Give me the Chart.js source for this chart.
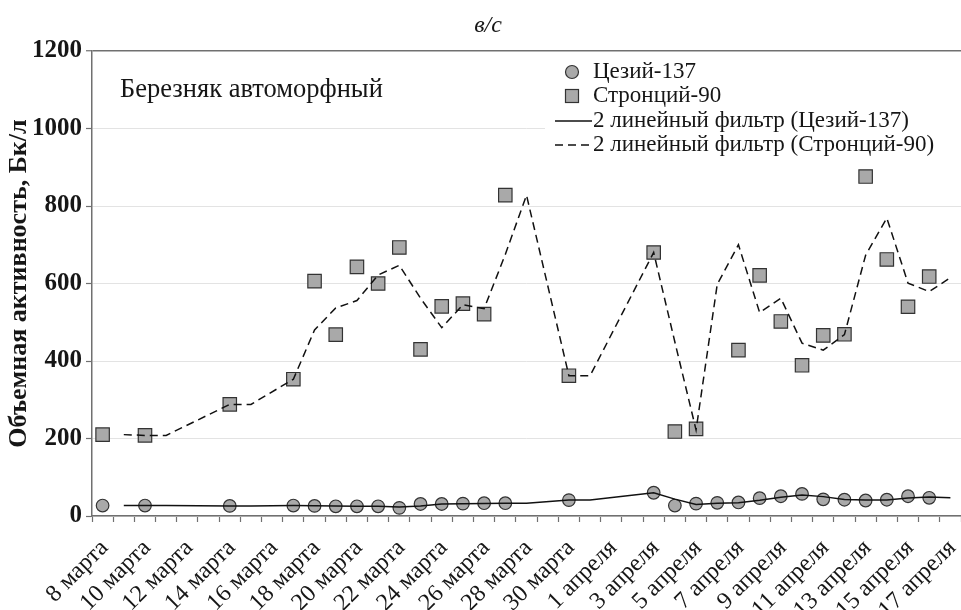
<!DOCTYPE html>
<html lang="ru">
<head>
<meta charset="utf-8">
<title>Березняк автоморфный</title>
<script src="https://cdn.jsdelivr.net/npm/chart.js@4.4.1/dist/chart.umd.min.js"></script>
<style>
    html, body { margin: 0; padding: 0; background: #ffffff; }
    canvas { display: block; }
</style>
</head>
<body>
<canvas id="activityChart" width="961" height="610"></canvas>
<script>
// Days of observation (one category per day, every other one is labelled)
const days = [
    '8 марта', '9 марта', '10 марта', '11 марта', '12 марта', '13 марта', '14 марта',
    '15 марта', '16 марта', '17 марта', '18 марта', '19 марта', '20 марта', '21 марта',
    '22 марта', '23 марта', '24 марта', '25 марта', '26 марта', '27 марта', '28 марта',
    '29 марта', '30 марта', '31 марта', '1 апреля', '2 апреля', '3 апреля', '4 апреля',
    '5 апреля', '6 апреля', '7 апреля', '8 апреля', '9 апреля', '10 апреля', '11 апреля',
    '12 апреля', '13 апреля', '14 апреля', '15 апреля', '16 апреля', '17 апреля'
];

// Cs-137, Bq/l (null = no sample that day)
const cesium = [
    27, null, 27, null, null, null, 26, null, null, 27,
    26, 25, 25, 25, 21, 31, 31, 32, 33, 33,
    null, null, 41, null, null, null, 60, 27, 32, 34,
    35, 46, 51, 57, 43, 42, 40, 42, 51, 47,
    null
];

// Sr-90, Bq/l
const strontium = [
    210, null, 208, null, null, null, 288, null, null, 353,
    606, 468, 643, 600, 693, 430, 541, 548, 521, 828,
    null, null, 362, null, null, null, 680, 218, 225, 972,
    428, 621, 502, 389, 466, 469, 876, 662, 540, 618,
    null
];

// 2-point moving average trend lines, as drawn on the picture
const cesiumFilter = [
    null, 27, 27, 27, null, null, 26, 26, null, 27,
    26.5, 25.5, 25, 25, 23, 26, 31, 31.5, 32.5, 33,
    33, null, 41, 41, null, null, 60, 43.5, 29.5, 33,
    34.5, 40.5, 48.5, 54, 50, 42.5, 41, 41, 46.5, 49,
    47
];

const strontiumFilter = [
    null, 210, 208, 208, null, null, 288, 288, null, 353,
    480, 537, 556, 622, 647, 562, 486, 545, 535, 675,
    828, null, 362, 362, null, null, 680, 449, 222, 598,
    700, 525, 562, 446, 428, 468, 673, 769, 601, 579,
    615
];

const yTicks = [0, 200, 400, 600, 800, 1000, 1200];

const legendItems = [
    { label: 'Цезий-137', kind: 'circle' },
    { label: 'Стронций-90', kind: 'rect' },
    { label: '2 линейный фильтр (Цезий-137)', kind: 'solid' },
    { label: '2 линейный фильтр (Стронций-90)', kind: 'dashed' }
];

const SERIF = "'Liberation Serif', 'Times New Roman', serif";
const MARKER_FILL = '#a9a9a9';
const MARKER_EDGE = '#333333';
const AXIS_COLOR = '#707070';
const TEXT_COLOR = '#161616';

/**
 * Title, panel caption and the legend box (drawn over the plot, as in the source)
 */
const annotations = {
    id: 'annotations',
    afterDatasetsDraw(chart) {
        const c = chart.ctx;
        c.save();

        // figure letter
        c.fillStyle = TEXT_COLOR;
        c.font = 'italic 24px ' + SERIF;
        c.textAlign = 'center';
        c.textBaseline = 'alphabetic';
        c.fillText('в/с', 488, 32);

        // site caption
        c.font = '26.5px ' + SERIF;
        c.textAlign = 'left';
        c.textBaseline = 'middle';
        c.fillText('Березняк автоморфный', 120, 90);

        // legend with white background
        c.fillStyle = '#ffffff';
        c.fillRect(545, 54, 416, 104);

        const rowY = [72, 96, 121, 145];
        c.font = '23px ' + SERIF;
        legendItems.forEach((item, i) => {
            const y = rowY[i];
            c.fillStyle = MARKER_FILL;
            c.strokeStyle = MARKER_EDGE;
            c.lineWidth = 1.2;
            c.setLineDash([]);
            if (item.kind === 'circle') {
                c.beginPath();
                c.arc(572, y, 6.5, 0, Math.PI * 2);
                c.fill();
                c.stroke();
            } else if (item.kind === 'rect') {
                c.fillRect(565.5, y - 6.5, 13, 13);
                c.strokeRect(565.5, y - 6.5, 13, 13);
            } else {
                c.strokeStyle = '#111111';
                c.lineWidth = 1.5;
                if (item.kind === 'dashed') c.setLineDash([8, 5]);
                c.beginPath();
                c.moveTo(555, y);
                c.lineTo(592, y);
                c.stroke();
            }
            c.fillStyle = TEXT_COLOR;
            c.fillText(item.label, 593, y);
        });

        c.restore();
    }
};

const ctx = document.getElementById('activityChart');

new Chart(ctx, {
    type: 'line',
    data: {
        labels: days,
        datasets: [
            {
                label: '2 линейный фильтр (Цезий-137)',
                data: cesiumFilter,
                borderColor: '#111111',
                borderWidth: 1.5,
                pointRadius: 0,
                spanGaps: true,
                tension: 0,
                order: 0
            },
            {
                label: '2 линейный фильтр (Стронций-90)',
                data: strontiumFilter,
                borderColor: '#111111',
                borderWidth: 1.5,
                borderDash: [8, 5],
                pointRadius: 0,
                spanGaps: true,
                tension: 0,
                order: 0
            },
            {
                label: 'Цезий-137',
                data: cesium,
                showLine: false,
                pointStyle: 'circle',
                pointRadius: 6.3,
                pointBackgroundColor: MARKER_FILL,
                pointBorderColor: MARKER_EDGE,
                pointBorderWidth: 1.2,
                order: 1
            },
            {
                label: 'Стронций-90',
                data: strontium,
                showLine: false,
                pointStyle: 'rect',
                pointRadius: 9.5,
                pointBackgroundColor: MARKER_FILL,
                pointBorderColor: MARKER_EDGE,
                pointBorderWidth: 1.2,
                order: 1
            }
        ]
    },
    options: {
        responsive: false,
        animation: false,
        layout: {
            autoPadding: false,
            padding: { top: 51, right: 0, bottom: 0, left: 0 }
        },
        plugins: {
            legend: { display: false },
            tooltip: { enabled: false }
        },
        scales: {
            x: {
                offset: true,
                grid: {
                    offset: true,
                    drawOnChartArea: false,
                    tickLength: 6,
                    tickColor: AXIS_COLOR,
                    tickWidth: 1.2
                },
                border: { color: AXIS_COLOR, width: 1.5 },
                ticks: {
                    autoSkip: false,
                    minRotation: 45,
                    maxRotation: 45,
                    padding: 12,
                    labelOffset: 2,
                    color: TEXT_COLOR,
                    font: { family: SERIF, size: 24 },
                    callback: function (value, index) {
                        return index % 2 === 0 ? this.getLabelForValue(value) : '';
                    }
                },
                afterFit(scale) {
                    scale.height = 94;
                    scale.paddingLeft = 0;
                    scale.paddingRight = 0;
                }
            },
            y: {
                min: 0,
                max: 1200,
                afterBuildTicks(scale) {
                    scale.ticks = yTicks.map(v => ({ value: v }));
                },
                grid: {
                    color: c => (c.tick && c.tick.value === 1200 ? AXIS_COLOR : '#e3e3e3'),
                    lineWidth: c => (c.tick && c.tick.value === 1200 ? 1.5 : 1),
                    tickLength: 6,
                    tickColor: AXIS_COLOR,
                    tickWidth: 1.2
                },
                border: { color: AXIS_COLOR, width: 1.5 },
                ticks: {
                    padding: 4,
                    color: TEXT_COLOR,
                    font: { family: SERIF, size: 25, weight: 'bold' },
                    callback: value => String(value)
                },
                title: {
                    display: true,
                    text: 'Объемная активность, Бк/л',
                    color: TEXT_COLOR,
                    padding: { top: 4, bottom: 0 },
                    font: { family: SERIF, size: 26, weight: 'bold' }
                },
                afterFit(scale) {
                    scale.width = 92;
                    scale.paddingTop = 0;
                    scale.paddingBottom = 0;
                }
            }
        }
    },
    plugins: [annotations]
});
</script>
</body>
</html>
